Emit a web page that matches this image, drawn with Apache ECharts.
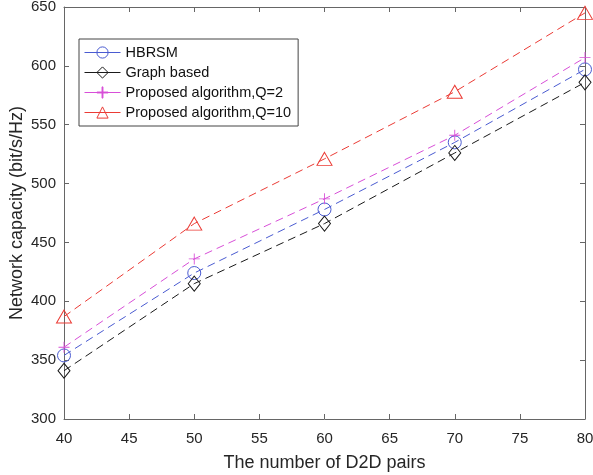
<!DOCTYPE html>
<html>
<head>
<meta charset="utf-8">
<script src="https://cdn.jsdelivr.net/npm/echarts@6/dist/echarts.min.js"></script>
<style>
  html, body { margin: 0; padding: 0; background: #fff; }
  #main { width: 593px; height: 475px; }
</style>
</head>
<body>
<div id="main"></div>
<script>
// D2D pairs on x axis
const pairs = [40, 50, 60, 70, 80]
// network capacity (bit/s/Hz) per method
const hbrsm = [354, 424, 478, 535, 597]
const graphBased = [341, 415, 466, 526, 586]
const proposedQ2 = [361, 436, 487, 541, 607]
const proposedQ10 = [387, 466, 521, 578, 645]

const fontName = 'Liberation Sans'
const plusPath = 'path://M4.6,0h0.8v10h-0.8zM0,4.6h10v0.8h-10z'

function makeSeries (name, values, color, symbol, size) {
  return {
    name: name,
    type: 'line',
    data: pairs.map((p, i) => [p, values[i]]),
    symbol: symbol,
    symbolSize: size,
    showAllSymbol: true,
    itemStyle: {
      color: symbol === plusPath ? color : 'transparent',
      borderColor: color,
      borderWidth: symbol === plusPath ? 0 : 1
    },
    lineStyle: { color: color, width: 1, type: [8, 5] },
    emphasis: { disabled: true },
    z: 3
  }
}

const myChart = echarts.init(document.getElementById('main'))
const axisLine = { show: true, lineStyle: { color: '#666', width: 1 } }
const tick = { show: true, inside: true, length: 5, lineStyle: { color: '#666' } }
const label = { color: '#262626', fontSize: 15, fontFamily: fontName }

myChart.setOption({
  animation: false,
  backgroundColor: '#fff',
  grid: { left: 64, right: 8, top: 7, bottom: 56, outerBoundsMode: 'none', containLabel: false },
  legend: {
    left: 79,
    top: 39,
    orient: 'vertical',
    itemWidth: 36,
    itemHeight: 14,
    itemGap: 5,
    padding: [6, 7, 6, 5],
    backgroundColor: '#fff',
    borderColor: '#444',
    borderWidth: 1,
    borderRadius: 0,
    lineStyle: { type: 'solid', width: 1 },
    itemStyle: { borderWidth: 1 },
    textStyle: { color: '#111', fontSize: 14.5, fontFamily: fontName },
    data: ['HBRSM', 'Graph based', 'Proposed algorithm,Q=2', 'Proposed algorithm,Q=10']
  },
  xAxis: [{
    type: 'value',
    min: 40,
    max: 80,
    interval: 5,
    name: 'The number of D2D pairs',
    nameLocation: 'middle',
    nameGap: 35,
    nameMoveOverlap: false,
    nameTextStyle: { color: '#262626', fontSize: 18, fontFamily: fontName },
    axisLine: axisLine,
    axisTick: tick,
    axisLabel: Object.assign({ margin: 12 }, label),
    splitLine: { show: false }
  }, {
    type: 'value',
    position: 'top',
    min: 40,
    max: 80,
    interval: 5,
    axisLine: axisLine,
    axisTick: tick,
    axisLabel: { show: false },
    splitLine: { show: false }
  }],
  yAxis: [{
    type: 'value',
    min: 300,
    max: 650,
    interval: 50,
    name: 'Network capacity (bit/s/Hz)',
    nameLocation: 'middle',
    nameGap: 38,
    nameMoveOverlap: false,
    nameTextStyle: { color: '#262626', fontSize: 18, fontFamily: fontName },
    axisLine: axisLine,
    axisTick: tick,
    axisLabel: Object.assign({ margin: 8 }, label),
    splitLine: { show: false }
  }, {
    type: 'value',
    position: 'right',
    min: 300,
    max: 650,
    interval: 50,
    axisLine: axisLine,
    axisTick: tick,
    axisLabel: { show: false },
    splitLine: { show: false }
  }],
  series: [
    makeSeries('HBRSM', hbrsm, '#4a5bd1', 'circle', 13),
    makeSeries('Graph based', graphBased, '#1a1a1a', 'diamond', [12, 15]),
    makeSeries('Proposed algorithm,Q=2', proposedQ2, '#d84fd8', plusPath, 11),
    makeSeries('Proposed algorithm,Q=10', proposedQ10, '#eb3b35', 'triangle', [15, 13])
  ]
})
</script>
</body>
</html>
